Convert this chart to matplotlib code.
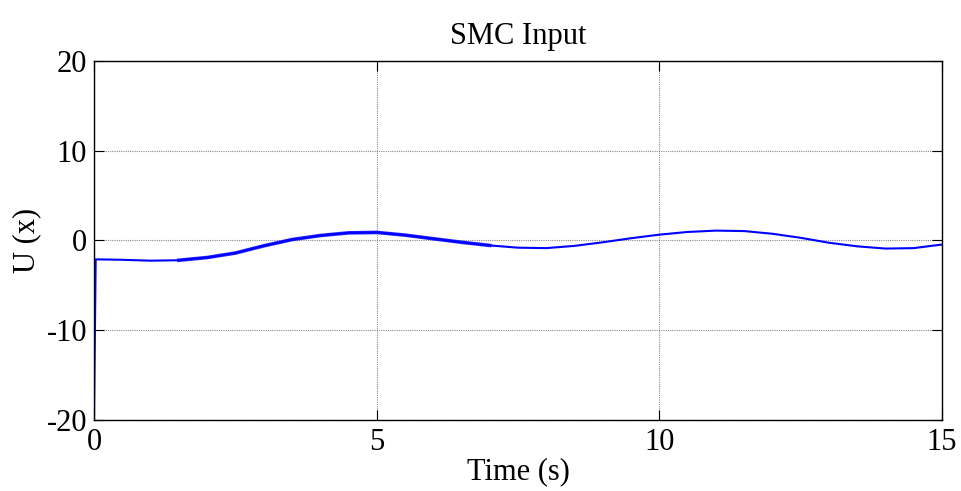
"""SMC Input - tracé de la commande U(x) en fonction du temps."""

import matplotlib
matplotlib.use("Agg")
import matplotlib.pyplot as plt

# Valeurs
temps = [0.0, 0.03, 0.5, 1.0, 1.5, 2.0, 2.5, 3.0, 3.5, 4.0, 4.5, 5.0, 5.5,
         6.0, 6.5, 7.0, 7.5, 8.0, 8.5, 9.0, 9.5, 10.0, 10.5, 11.0, 11.5,
         12.0, 12.5, 13.0, 13.5, 14.0, 14.5, 15.0]
commande = [-20.0, -2.1, -2.15, -2.25, -2.2, -1.9, -1.4, -0.6, 0.1, 0.55,
            0.85, 0.9, 0.6, 0.2, -0.2, -0.55, -0.8, -0.85, -0.6, -0.2, 0.25,
            0.65, 0.95, 1.1, 1.05, 0.75, 0.3, -0.25, -0.65, -0.9, -0.85, -0.45]

# zone où la commande "broute" (trait plus épais)
debut_broutement, fin_broutement = 1.5, 7.0

x_ticks = [0, 5, 10, 15]
y_ticks = [-20, -10, 0, 10, 20]

plt.rcParams["font.family"] = ["Liberation Serif", "DejaVu Serif"]
plt.rcParams["axes.unicode_minus"] = False

fig = plt.figure(figsize=(9.61, 4.91), dpi=100)
ax = fig.add_axes([0.0978, 0.1446, 0.8824, 0.7312])

ax.plot(temps, commande, color="#0000ff", linewidth=1.5)
t_b = [t for t in temps if debut_broutement <= t <= fin_broutement]
u_b = [u for t, u in zip(temps, commande) if debut_broutement <= t <= fin_broutement]
ax.plot(t_b, u_b, color="#0000ff", linewidth=2.6, alpha=0.85)

ax.set_xlim(0, 15)
ax.set_ylim(-20, 20)
ax.set_xticks(x_ticks)
ax.set_yticks(y_ticks)
ax.tick_params(direction="in", length=7, width=0.8, labelsize=22,
               top=True, right=True)
ax.tick_params(axis="x", pad=6)
ax.tick_params(axis="y", pad=5)
ax.grid(True, color="#8a8a8a", linestyle=(0, (1, 1)), linewidth=0.8)
for sp in ax.spines.values():
    sp.set_linewidth(1.0)

ax.set_title("SMC Input", fontsize=22, pad=12)
ax.set_xlabel("Time (s)", fontsize=22, labelpad=0)
ax.set_ylabel("U (x)", fontsize=22, labelpad=4)

fig.savefig("out.png", dpi=100)
plt.close(fig)
